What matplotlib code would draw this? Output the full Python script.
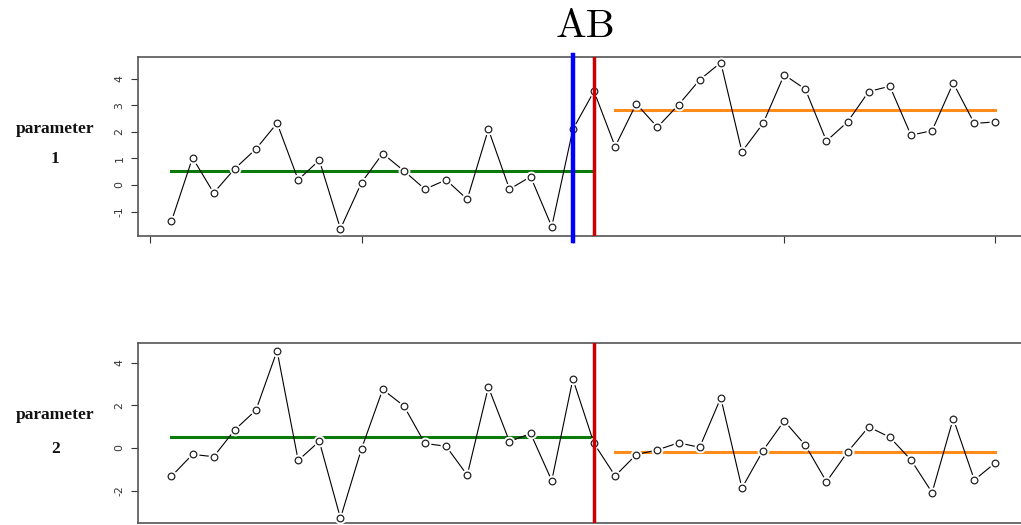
import numpy as np
import matplotlib
matplotlib.use("Agg")
import matplotlib.pyplot as plt

# observations, index 1..40
idx = np.arange(1, 41)
param1 = [-1.37, 1.02, -0.30, 0.61, 1.35, 2.32, 0.19, 0.93, -1.65, 0.09,
          1.18, 0.53, -0.16, 0.19, -0.54, 2.09, -0.16, 0.31, -1.57, 2.09,
          3.52, 1.44, 3.05, 2.17, 3.01, 3.95, 4.60, 1.25, 2.31, 4.14,
          3.60, 1.65, 2.37, 3.51, 3.71, 1.87, 2.04, 3.83, 2.31, 2.37]
param2 = [-1.33, -0.30, -0.41, 0.85, 1.77, 4.55, -0.58, 0.31, -3.29, -0.03,
          2.74, 1.97, 0.21, 0.08, -1.27, 2.85, 0.30, 0.68, -1.53, 3.23,
          0.21, -1.31, -0.31, -0.09, 0.24, 0.03, 2.35, -1.88, -0.12, 1.27,
          0.13, -1.58, -0.19, 0.99, 0.50, -0.56, -2.09, 1.38, -1.50, -0.69]

# change points and segment levels
cp_red = 21
cp_blue = 20
seg1 = (1, 21)
seg2 = (22, 40)
level1 = [0.51, 2.80]
level2 = [0.53, -0.17]

fig = plt.figure(figsize=(10.21, 5.25), dpi=100)
ax1 = fig.add_axes([0.1356, 0.5505, 0.8717, 0.341])
ax2 = fig.add_axes([0.1356, 0.0032, 0.8717, 0.3440])


def panel(ax, y, lev, ylim, yticks):
    ax.plot(idx, y, color="black", lw=0.8, zorder=3)
    ax.plot(idx, y, "o", ms=7.5, mfc="white", mec="white", zorder=4)
    ax.plot(idx, y, "o", ms=4.8, mfc="white", mec="#222222", mew=0.9, zorder=5)
    ax.plot(seg1, [lev[0], lev[0]], color="#0a7a0a", lw=2.2, zorder=2)
    ax.plot(seg2, [lev[1], lev[1]], color="#ff8c1a", lw=2.2, zorder=2)
    ax.axvline(cp_red, color="#cc0000", lw=2.5, zorder=6)
    ax.set_xlim(-0.56, 41.56)
    ax.set_ylim(*ylim)
    ax.set_xticks([0, 10, 20, 30, 40])
    ax.set_xticklabels([])
    ax.set_yticks(yticks)
    ax.set_yticklabels([str(t) for t in yticks], rotation=90, va="center",
                       fontsize=7.8, color="#333333")
    ax.tick_params(direction="out", length=5, width=0.8, pad=5, colors="#333333")
    for s in ax.spines.values():
        s.set_color("#555555")
        s.set_linewidth(1.2)


panel(ax1, param1, level1, (-1.92, 4.81), [-1, 0, 1, 2, 3, 4])
panel(ax2, param2, level2, (-3.53, 4.93), [-2, 0, 2, 4])
# lower panel's x axis falls outside the picture
ax2.tick_params(axis="x", length=0)

# blue change point, slightly beyond the frame
ax1.plot([cp_blue, cp_blue], [-2.1, 4.9], color="#0000ff", lw=3.2,
         clip_on=False, zorder=7)

fig.text(0.573, 0.93, "AB", fontfamily="cmr10", fontsize=29.5,
         ha="center", va="baseline")

lab = dict(fontfamily="Liberation Serif", fontweight="bold", fontsize=12.5,
           ha="center", va="center", color="#111111")
fig.text(0.054, 0.754, "parameter", **lab)
fig.text(0.054, 0.697, "1", **lab)
fig.text(0.054, 0.21, "parameter", **lab)
fig.text(0.054, 0.144, "2", **lab)

fig.savefig("out.png", dpi=100)
